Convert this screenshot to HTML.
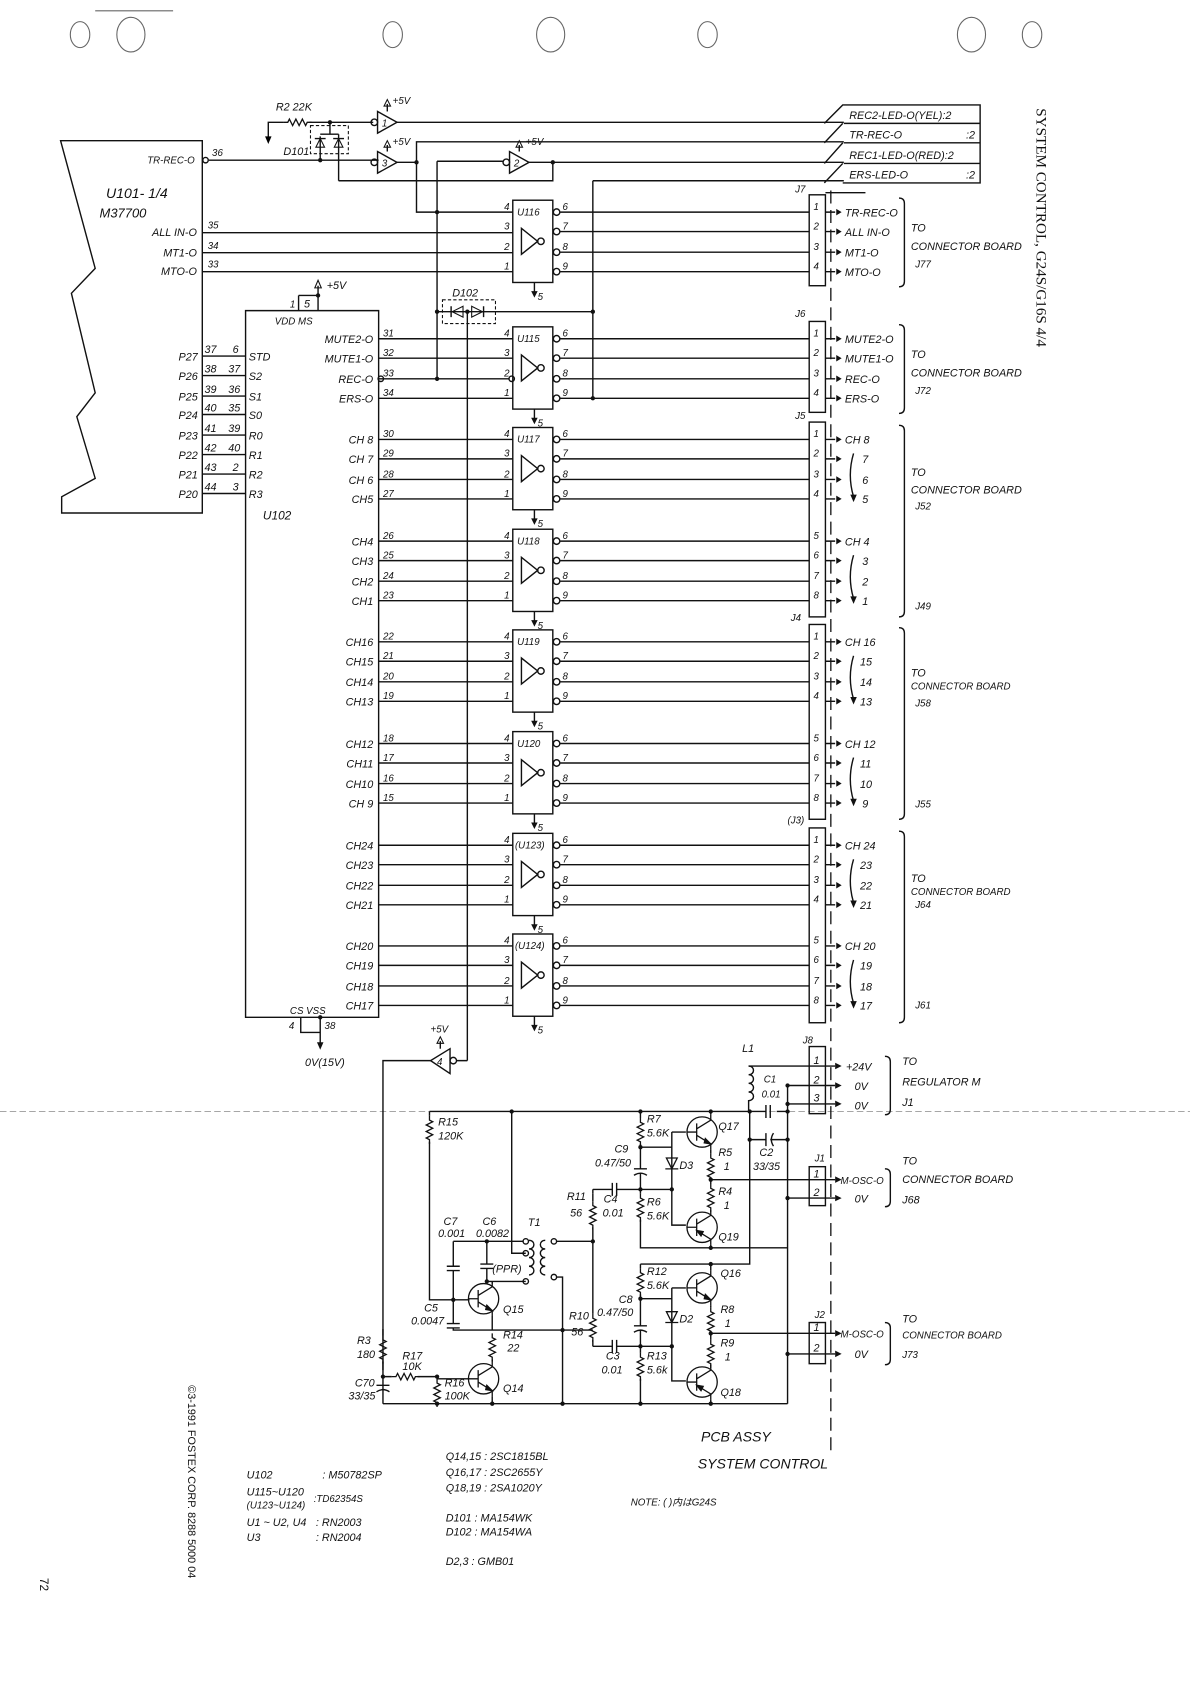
<!DOCTYPE html>
<html><head><meta charset="utf-8"><style>
html,body{margin:0;padding:0;background:#fff;}
svg{display:block;}
text{font-family:"Liberation Sans","Noto Sans CJK JP",sans-serif;font-style:italic;font-size:10px;fill:#111;}
.s{font-size:9px;}
.w{fill:none;stroke:#111;stroke-width:1.3;}
</style></head><body>
<svg width="1190" height="1684" viewBox="0 0 1100 1556" preserveAspectRatio="none" xmlns="http://www.w3.org/2000/svg">
<defs>
<g id="buf" class="w">
<rect x="474" y="0" width="37" height="76"/>
<path d="M482 26L482 50L497 38Z"/>
<circle cx="500" cy="38" r="3"/>
<circle cx="514.5" cy="11" r="3"/><circle cx="514.5" cy="29" r="3"/><circle cx="514.5" cy="48" r="3"/><circle cx="514.5" cy="66" r="3"/>
<path d="M518 11H748M518 29H748M518 48H748M518 66H748"/>
<path d="M763 11H772M763 29H772M763 48H772M763 66H772"/>
<path d="M494 76V88"/>
</g>
<g id="arr4" fill="#111"><path d="M773 8L778 11L773 14Z"/><path d="M773 26L778 29L773 32Z"/><path d="M773 45L778 48L773 51Z"/><path d="M773 63L778 66L773 69Z"/><path d="M491 84L494 90L497 84Z"/></g>
<path id="rv" d="M0 0v4l3 1.5l-6 3l6 3l-6 3l6 3l-6 3l3 1.5v4" fill="none" stroke="#111" stroke-width="1.2"/>
<path id="rh" d="M0 0h4l1.5 -3l3 6l3 -6l3 6l3 -6l3 6l1.5 -3h4" fill="none" stroke="#111" stroke-width="1.2"/>
<g id="npn" fill="none" stroke="#111" stroke-width="1.2"><circle r="14"/><path d="M-14 0H-5M-5 -8V8M-5 -3L8 -11V-16M-5 3L8 11V16"/><path d="M3 6L8 11L2 10Z" fill="#111"/></g>
<g id="pnp" fill="none" stroke="#111" stroke-width="1.2"><circle r="14"/><path d="M-14 0H-5M-5 -8V8M-5 -3L8 -11V-16M-5 3L8 11V16"/><path d="M-5 3L1 4L-1 8Z" fill="#111"/></g>
</defs>

<!-- punch holes -->
<g fill="none" stroke="#666" stroke-width="1">
<ellipse cx="74" cy="32" rx="9" ry="12"/><ellipse cx="121" cy="32" rx="13" ry="16"/>
<ellipse cx="363" cy="32" rx="9" ry="12"/><ellipse cx="509" cy="32" rx="13" ry="16"/>
<ellipse cx="654" cy="32" rx="9" ry="12"/><ellipse cx="898" cy="32" rx="13" ry="16"/><ellipse cx="954" cy="32" rx="9" ry="12"/>
<path d="M88 10H160"/>
</g>
<path d="M0 1027H1100" stroke="#999" stroke-width="0.8" stroke-dasharray="6 3"/>

<!-- U101 -->
<path class="w" d="M56 130H187V474H57V459L88 442L71 385L88 363L66 271L88 248Z"/>
<text x="98" y="183" style="font-size:13px">U101- 1/4</text>
<text x="92" y="201" style="font-size:12px">M37700</text>
<text x="180" y="151" text-anchor="end" class="s">TR-REC-O</text>
<circle class="w" cx="190" cy="148" r="2.5"/>
<text x="196" y="144" class="s">36</text>
<text x="182" y="218" text-anchor="end">ALL IN-O</text><text x="192" y="211" class="s">35</text>
<text x="182" y="237" text-anchor="end">MT1-O</text><text x="192" y="230" class="s">34</text>
<text x="182" y="254" text-anchor="end">MTO-O</text><text x="192" y="247" class="s">33</text>
<path class="w" d="M193 148H350M187 215H474M187 233.5H474M187 251H474"/>

<!-- top section -->
<text x="255" y="102">R2 22K</text>
<use href="#rh" x="262" y="113"/>
<path class="w" d="M248 130V113H262M286 113H345"/><path d="M245 126L248 133L251 126Z"/>
<circle cx="305" cy="113" r="2" fill="#111"/>
<rect x="287" y="116" width="35" height="26" fill="none" stroke="#111" stroke-dasharray="3 2"/>
<path class="w" d="M296 148V126M305 113V124H296M313 124H305M313 124V167"/>
<path d="M292 136L300 136L296 128Z M309 136L317 136L313 128Z" fill="none" stroke="#111"/>
<path class="w" d="M291 128H301M308 128H318"/>
<circle cx="296" cy="148" r="2" fill="#111"/>
<text x="262" y="143">D101</text>
<!-- buffers 1,3,2 -->
<path class="w" d="M349 103L349 123L367 113Z"/><circle class="w" cx="346" cy="113" r="3"/><text x="353" y="117" class="s">1</text>
<path class="w" d="M358 103V96"/><path d="M355 98L358 92L361 98Z" fill="none" stroke="#111"/><text x="363" y="96" class="s">+5V</text>
<path class="w" d="M349 140L349 160L367 150Z"/><circle class="w" cx="346" cy="150" r="3"/><text x="353" y="154" class="s">3</text>
<path class="w" d="M358 140V134"/><path d="M355 136L358 130L361 136Z" fill="none" stroke="#111"/><text x="363" y="134" class="s">+5V</text>
<path class="w" d="M471 140L471 160L489 150Z"/><circle class="w" cx="468" cy="150" r="3"/><text x="475" y="154" class="s">2</text>
<path class="w" d="M480 140V134"/><path d="M477 136L480 130L483 136Z" fill="none" stroke="#111"/><text x="486" y="134" class="s">+5V</text>
<path class="w" d="M367 113H780M367 150H385V131H780M385 150V196H474M404 149H465M404 149V351M489 150H780M511 150V167H313M548 167H780M548 167V369"/>
<circle cx="385" cy="150" r="2" fill="#111"/><circle cx="511" cy="150" r="2" fill="#111"/><circle cx="404" cy="196" r="2" fill="#111"/>
<!-- right label box -->
<path class="w" d="M762 114L779 97H906V169H779M780 114H906M762 132L779 114M780 132H906M762 151L779 132M780 151H906M762 169L779 151"/>
<text x="785" y="110">REC2-LED-O(YEL):2</text>
<text x="785" y="128">TR-REC-O</text><text x="893" y="128">:2</text>
<text x="785" y="147">REC1-LED-O(RED):2</text>
<text x="785" y="165">ERS-LED-O</text><text x="893" y="165">:2</text>
<text x="958" y="100" transform="rotate(90 958 100)" style="font-family:'Liberation Serif',serif;font-style:normal;font-size:14px">SYSTEM CONTROL, G24S/G16S 4/4</text>

<!-- D102 -->
<rect x="409" y="277" width="49" height="22" fill="none" stroke="#111" stroke-dasharray="3 2"/>
<path class="w" d="M404 288H548M432 288V980"/>
<path d="M428 283V293L418 288Z M436 283V293L446 288Z" fill="none" stroke="#111"/><path class="w" d="M417 283V293M447 283V293"/>
<circle cx="404" cy="288" r="2" fill="#111"/><circle cx="432" cy="288" r="2" fill="#111"/><circle cx="548" cy="288" r="2" fill="#111"/>
<text x="418" y="274">D102</text>

<!-- U102 -->
<path class="w" d="M227 287H350V940H227Z"/>
<path class="w" d="M276 273H294V287M276 273V287M294 273V264"/><circle cx="294" cy="273" r="2" fill="#111"/>
<path d="M291 266L294 259L297 266Z" fill="none" stroke="#111"/><text x="302" y="267">+5V</text>
<text x="268" y="284" class="s">1</text><text x="281" y="284">5</text>
<text x="254" y="300" class="s">VDD  MS</text>
<text x="243" y="480" style="font-size:11px">U102</text>
<g class="w"><path d="M187 329H227M187 347H227M187 366H227M187 383H227M187 402H227M187 420H227M187 438H227M187 456H227"/></g>
<g class="s">
<text x="165" y="333">P27</text><text x="189" y="326">37</text><text x="215" y="326">6</text><text x="230" y="333">STD</text>
<text x="165" y="351">P26</text><text x="189" y="344">38</text><text x="211" y="344">37</text><text x="230" y="351">S2</text>
<text x="165" y="370">P25</text><text x="189" y="363">39</text><text x="211" y="363">36</text><text x="230" y="370">S1</text>
<text x="165" y="387">P24</text><text x="189" y="380">40</text><text x="211" y="380">35</text><text x="230" y="387">S0</text>
<text x="165" y="406">P23</text><text x="189" y="399">41</text><text x="211" y="399">39</text><text x="230" y="406">R0</text>
<text x="165" y="424">P22</text><text x="189" y="417">42</text><text x="211" y="417">40</text><text x="230" y="424">R1</text>
<text x="165" y="442">P21</text><text x="189" y="435">43</text><text x="215" y="435">2</text><text x="230" y="442">R2</text>
<text x="165" y="460">P20</text><text x="189" y="453">44</text><text x="215" y="453">3</text><text x="230" y="460">R3</text>
</g>
<text x="268" y="937" class="s">CS  VSS</text>
<path class="w" d="M278 940V954H296V940M296 954V965"/><circle cx="296" cy="940" r="2" fill="#111"/>
<path d="M293 963L296 970L299 963Z" fill="#111"/>
<text x="267" y="951" class="s">4</text><text x="300" y="951" class="s">38</text>
<text x="282" y="985">0V(15V)</text>

<!-- connectors -->
<g class="w">
<rect x="748" y="180" width="15" height="84"/>
<rect x="748" y="297" width="15" height="84"/>
<rect x="748" y="390" width="15" height="180"/>
<rect x="748" y="577" width="15" height="180"/>
<rect x="748" y="765" width="15" height="180"/>
<rect x="748" y="967" width="15" height="62"/>
<rect x="748" y="1078" width="15" height="36"/>
<rect x="748" y="1222" width="15" height="38"/>
</g>
<path d="M768 176V1340" stroke="#111" stroke-width="1.2" stroke-dasharray="12 6"/>
<text x="735" y="178" class="s">J7</text><text x="735" y="293" class="s">J6</text><text x="735" y="387" class="s">J5</text>
<text x="731" y="574" class="s">J4</text><text x="728" y="761" class="s">(J3)</text><text x="742" y="964" class="s">J8</text>
<text x="753" y="1073" class="s">J1</text><text x="753" y="1218" class="s">J2</text>

<!-- U116 -->
<g transform="translate(0,185)"><use href="#buf"/><use href="#arr4"/>
<text x="478" y="14" class="s">U116</text>
<text x="466" y="9" class="s">4</text><text x="466" y="27" class="s">3</text><text x="466" y="46" class="s">2</text><text x="466" y="64" class="s">1</text>
<text x="520" y="9" class="s">6</text><text x="520" y="27" class="s">7</text><text x="520" y="46" class="s">8</text><text x="520" y="64" class="s">9</text>
<text x="497" y="92" class="s">5</text>
<text x="752" y="9" class="s">1</text><text x="752" y="27" class="s">2</text><text x="752" y="46" class="s">3</text><text x="752" y="64" class="s">4</text>
<text x="781" y="15">TR-REC-O</text><text x="781" y="33">ALL IN-O</text><text x="781" y="52">MT1-O</text><text x="781" y="70">MTO-O</text>
<path class="w" d="M831 -2Q836 -2 836 3V75Q836 80 831 80"/>
<text x="842" y="29">TO</text><text x="842" y="46">CONNECTOR BOARD</text><text x="846" y="62" class="s">J77</text>
</g>
<path class="w" d="M763 178H800"/>

<!-- U115 -->
<g transform="translate(0,302)"><use href="#buf"/><use href="#arr4"/>
<path class="w" d="M350 11H474M350 29H474M350 48H471M350 66H474"/><circle class="w" cx="352" cy="48" r="2.5"/><circle class="w" cx="473" cy="48" r="2.5"/>
<circle cx="404" cy="48" r="2" fill="#111"/><circle cx="548" cy="66" r="2" fill="#111"/>
<text x="478" y="14" class="s">U115</text>
<text x="466" y="9" class="s">4</text><text x="466" y="27" class="s">3</text><text x="466" y="46" class="s">2</text><text x="466" y="64" class="s">1</text>
<text x="520" y="9" class="s">6</text><text x="520" y="27" class="s">7</text><text x="520" y="46" class="s">8</text><text x="520" y="64" class="s">9</text>
<text x="497" y="92" class="s">5</text>
<text x="345" y="15" text-anchor="end">MUTE2-O</text><text x="345" y="33" text-anchor="end">MUTE1-O</text><text x="345" y="52" text-anchor="end">REC-O</text><text x="345" y="70" text-anchor="end">ERS-O</text>
<text x="354" y="9" class="s">31</text><text x="354" y="27" class="s">32</text><text x="354" y="46" class="s">33</text><text x="354" y="64" class="s">34</text>
<text x="752" y="9" class="s">1</text><text x="752" y="27" class="s">2</text><text x="752" y="46" class="s">3</text><text x="752" y="64" class="s">4</text>
<text x="781" y="15">MUTE2-O</text><text x="781" y="33">MUTE1-O</text><text x="781" y="52">REC-O</text><text x="781" y="70">ERS-O</text>
<path class="w" d="M831 -2Q836 -2 836 3V75Q836 80 831 80"/>
<text x="842" y="29">TO</text><text x="842" y="46">CONNECTOR BOARD</text><text x="846" y="62" class="s">J72</text>
</g>

<!-- U117 -->
<g transform="translate(0,395)"><use href="#buf"/><use href="#arr4"/>
<path class="w" d="M350 11H474M350 29H474M350 48H474M350 66H474"/>
<text x="478" y="14" class="s">U117</text>
<text x="466" y="9" class="s">4</text><text x="466" y="27" class="s">3</text><text x="466" y="46" class="s">2</text><text x="466" y="64" class="s">1</text>
<text x="520" y="9" class="s">6</text><text x="520" y="27" class="s">7</text><text x="520" y="46" class="s">8</text><text x="520" y="64" class="s">9</text>
<text x="497" y="92" class="s">5</text>
<text x="345" y="15" text-anchor="end">CH 8</text><text x="345" y="33" text-anchor="end">CH 7</text><text x="345" y="52" text-anchor="end">CH 6</text><text x="345" y="70" text-anchor="end">CH5</text>
<text x="354" y="9" class="s">30</text><text x="354" y="27" class="s">29</text><text x="354" y="46" class="s">28</text><text x="354" y="64" class="s">27</text>
<text x="752" y="9" class="s">1</text><text x="752" y="27" class="s">2</text><text x="752" y="46" class="s">3</text><text x="752" y="64" class="s">4</text>
<text x="781" y="15">CH 8</text><text x="797" y="33">7</text><text x="797" y="52">6</text><text x="797" y="70">5</text>
<path class="w" d="M789 24Q783 44 789 64"/><path d="M786 62L789 69L792 62Z" fill="#111"/>
<path class="w" d="M831 -2Q836 -2 836 3V170Q836 175 831 175"/>
<text x="842" y="45">TO</text><text x="842" y="61">CONNECTOR BOARD</text><text x="846" y="76" class="s">J52</text>
<text x="846" y="168" class="s">J49</text>
</g>

<!-- U118 -->
<g transform="translate(0,489)"><use href="#buf"/><use href="#arr4"/>
<path class="w" d="M350 11H474M350 29H474M350 48H474M350 66H474"/>
<text x="478" y="14" class="s">U118</text>
<text x="466" y="9" class="s">4</text><text x="466" y="27" class="s">3</text><text x="466" y="46" class="s">2</text><text x="466" y="64" class="s">1</text>
<text x="520" y="9" class="s">6</text><text x="520" y="27" class="s">7</text><text x="520" y="46" class="s">8</text><text x="520" y="64" class="s">9</text>
<text x="497" y="92" class="s">5</text>
<text x="345" y="15" text-anchor="end">CH4</text><text x="345" y="33" text-anchor="end">CH3</text><text x="345" y="52" text-anchor="end">CH2</text><text x="345" y="70" text-anchor="end">CH1</text>
<text x="354" y="9" class="s">26</text><text x="354" y="27" class="s">25</text><text x="354" y="46" class="s">24</text><text x="354" y="64" class="s">23</text>
<text x="752" y="9" class="s">5</text><text x="752" y="27" class="s">6</text><text x="752" y="46" class="s">7</text><text x="752" y="64" class="s">8</text>
<text x="781" y="15">CH 4</text><text x="797" y="33">3</text><text x="797" y="52">2</text><text x="797" y="70">1</text>
<path class="w" d="M789 24Q783 44 789 64"/><path d="M786 62L789 69L792 62Z" fill="#111"/>
</g>

<!-- U119 -->
<g transform="translate(0,582)"><use href="#buf"/><use href="#arr4"/>
<path class="w" d="M350 11H474M350 29H474M350 48H474M350 66H474"/>
<text x="478" y="14" class="s">U119</text>
<text x="466" y="9" class="s">4</text><text x="466" y="27" class="s">3</text><text x="466" y="46" class="s">2</text><text x="466" y="64" class="s">1</text>
<text x="520" y="9" class="s">6</text><text x="520" y="27" class="s">7</text><text x="520" y="46" class="s">8</text><text x="520" y="64" class="s">9</text>
<text x="497" y="92" class="s">5</text>
<text x="345" y="15" text-anchor="end">CH16</text><text x="345" y="33" text-anchor="end">CH15</text><text x="345" y="52" text-anchor="end">CH14</text><text x="345" y="70" text-anchor="end">CH13</text>
<text x="354" y="9" class="s">22</text><text x="354" y="27" class="s">21</text><text x="354" y="46" class="s">20</text><text x="354" y="64" class="s">19</text>
<text x="752" y="9" class="s">1</text><text x="752" y="27" class="s">2</text><text x="752" y="46" class="s">3</text><text x="752" y="64" class="s">4</text>
<text x="781" y="15">CH 16</text><text x="795" y="33">15</text><text x="795" y="52">14</text><text x="795" y="70">13</text>
<path class="w" d="M789 24Q783 44 789 64"/><path d="M786 62L789 69L792 62Z" fill="#111"/>
<path class="w" d="M831 -2Q836 -2 836 3V170Q836 175 831 175"/>
<text x="842" y="43">TO</text><text x="842" y="55" class="s">CONNECTOR BOARD</text><text x="846" y="71" class="s">J58</text>
<text x="846" y="164" class="s">J55</text>
</g>

<!-- U120 -->
<g transform="translate(0,676)"><use href="#buf"/><use href="#arr4"/>
<path class="w" d="M350 11H474M350 29H474M350 48H474M350 66H474"/>
<text x="478" y="14" class="s">U120</text>
<text x="466" y="9" class="s">4</text><text x="466" y="27" class="s">3</text><text x="466" y="46" class="s">2</text><text x="466" y="64" class="s">1</text>
<text x="520" y="9" class="s">6</text><text x="520" y="27" class="s">7</text><text x="520" y="46" class="s">8</text><text x="520" y="64" class="s">9</text>
<text x="497" y="92" class="s">5</text>
<text x="345" y="15" text-anchor="end">CH12</text><text x="345" y="33" text-anchor="end">CH11</text><text x="345" y="52" text-anchor="end">CH10</text><text x="345" y="70" text-anchor="end">CH 9</text>
<text x="354" y="9" class="s">18</text><text x="354" y="27" class="s">17</text><text x="354" y="46" class="s">16</text><text x="354" y="64" class="s">15</text>
<text x="752" y="9" class="s">5</text><text x="752" y="27" class="s">6</text><text x="752" y="46" class="s">7</text><text x="752" y="64" class="s">8</text>
<text x="781" y="15">CH 12</text><text x="795" y="33">11</text><text x="795" y="52">10</text><text x="797" y="70">9</text>
<path class="w" d="M789 24Q783 44 789 64"/><path d="M786 62L789 69L792 62Z" fill="#111"/>
</g>

<!-- U123 -->
<g transform="translate(0,770)"><use href="#buf"/><use href="#arr4"/>
<path class="w" d="M350 11H474M350 29H474M350 48H474M350 66H474"/>
<text x="476" y="14" class="s">(U123)</text>
<text x="466" y="9" class="s">4</text><text x="466" y="27" class="s">3</text><text x="466" y="46" class="s">2</text><text x="466" y="64" class="s">1</text>
<text x="520" y="9" class="s">6</text><text x="520" y="27" class="s">7</text><text x="520" y="46" class="s">8</text><text x="520" y="64" class="s">9</text>
<text x="497" y="92" class="s">5</text>
<text x="345" y="15" text-anchor="end">CH24</text><text x="345" y="33" text-anchor="end">CH23</text><text x="345" y="52" text-anchor="end">CH22</text><text x="345" y="70" text-anchor="end">CH21</text>
<text x="752" y="9" class="s">1</text><text x="752" y="27" class="s">2</text><text x="752" y="46" class="s">3</text><text x="752" y="64" class="s">4</text>
<text x="781" y="15">CH 24</text><text x="795" y="33">23</text><text x="795" y="52">22</text><text x="795" y="70">21</text>
<path class="w" d="M789 24Q783 44 789 64"/><path d="M786 62L789 69L792 62Z" fill="#111"/>
<path class="w" d="M831 -2Q836 -2 836 3V170Q836 175 831 175"/>
<text x="842" y="45">TO</text><text x="842" y="57" class="s">CONNECTOR BOARD</text><text x="846" y="69" class="s">J64</text>
<text x="846" y="162" class="s">J61</text>
</g>

<!-- U124 -->
<g transform="translate(0,863)"><use href="#buf"/><use href="#arr4"/>
<path class="w" d="M350 11H474M350 29H474M350 48H474M350 66H474"/>
<text x="476" y="14" class="s">(U124)</text>
<text x="466" y="9" class="s">4</text><text x="466" y="27" class="s">3</text><text x="466" y="46" class="s">2</text><text x="466" y="64" class="s">1</text>
<text x="520" y="9" class="s">6</text><text x="520" y="27" class="s">7</text><text x="520" y="46" class="s">8</text><text x="520" y="64" class="s">9</text>
<text x="497" y="92" class="s">5</text>
<text x="345" y="15" text-anchor="end">CH20</text><text x="345" y="33" text-anchor="end">CH19</text><text x="345" y="52" text-anchor="end">CH18</text><text x="345" y="70" text-anchor="end">CH17</text>
<text x="752" y="9" class="s">5</text><text x="752" y="27" class="s">6</text><text x="752" y="46" class="s">7</text><text x="752" y="64" class="s">8</text>
<text x="781" y="15">CH 20</text><text x="795" y="33">19</text><text x="795" y="52">18</text><text x="795" y="70">17</text>
<path class="w" d="M789 24Q783 44 789 64"/><path d="M786 62L789 69L792 62Z" fill="#111"/>
</g>

<!-- buffer 4 -->
<path class="w" d="M416 969L416 992L398 980Z"/><circle class="w" cx="419" cy="980" r="3"/><text x="404" y="984" class="s">4</text>
<path class="w" d="M422 980H432M398 980H354V1297"/>
<path class="w" d="M407 969V962"/><path d="M404 964L407 958L410 964Z" fill="none" stroke="#111"/><text x="398" y="954" class="s">+5V</text>

<!-- lower circuit -->
<g class="w">
<path d="M397 1027H708M718 1027H728M728 1003V1297M354 1297H728"/>
<path d="M708 1021V1033M712 1021V1033"/>
<path d="M692 985H772M728 1003H772M728 1020H772M657 1090H772M728 1107H772M657 1232H772M728 1251H772"/>
<path d="M692 985c6 0 6 8 0 8c6 0 6 8 0 8c6 0 6 8 0 8c6 0 6 8 0 8V1027"/>
<path d="M693 1027V1168H592M693 1053H708M712 1053H728"/>
<path d="M708 1047V1059"/><path d="M715 1047Q711 1053 715 1059"/>
<path d="M397 1027V1031M397 1055V1201H434"/>
<path d="M473 1027V1158H486"/>
<path d="M419 1147H484M419 1147V1170M419 1174V1223M419 1227V1229H548"/>
<path d="M413 1170H425M413 1174H425M413 1223H425M413 1227H425"/>
<path d="M450 1147V1168M450 1172V1184H486M444 1168H456M444 1172H456"/>
<path d="M514 1147H548M514 1180H520V1297"/>
<path d="M489 1146c6 0 6 8 0 8c6 0 6 8 0 8c6 0 6 8 0 8c6 0 6 8 0 8"/>
<path d="M504 1146c-6 0 -6 8 0 8c-6 0 -6 8 0 8c-6 0 -6 8 0 8c-6 0 -6 8 0 8"/>
<circle cx="486" cy="1147" r="2.5"/><circle cx="486" cy="1158" r="2.5"/><circle cx="486" cy="1184" r="2.5"/><circle cx="512" cy="1147" r="2.5"/><circle cx="512" cy="1180" r="2.5"/>
<path d="M548 1103V1110M548 1134V1214M548 1238V1244"/>
<path d="M548 1099V1103M548 1099H566M570 1099H592M566 1093V1105M570 1093V1105"/>
<path d="M548 1244H566M570 1244H592M566 1238V1250M570 1238V1250"/>
<path d="M592 1027V1033M592 1057V1080M592 1084V1103M592 1127V1153H728"/>
<path d="M586 1080H598M586 1086Q592 1082 598 1086"/>
<path d="M592 1060H621M621 1046V1132H634M592 1099H621M621 1046H634"/>
<path d="M592 1168V1172M592 1196V1225M592 1229V1250M592 1274V1297"/>
<path d="M586 1225H598M586 1231Q592 1227 598 1231"/>
<path d="M592 1200H621M621 1190V1276H634M592 1244H621M621 1190H634"/>
<path d="M657 1027V1030M657 1062V1066M657 1090V1094M657 1118V1118M657 1150V1153M657 1168V1174M657 1206V1208M657 1232V1238M657 1262V1261M657 1293V1297"/>
<path d="M455 1184V1186M455 1216V1229M455 1256V1258M455 1290V1297M434 1274H404"/>
<path d="M354 1228V1234M354 1258V1266M354 1272H362M386 1272H404M404 1272V1274M404 1298V1297"/>
<path d="M348 1280H360M348 1286Q354 1282 360 1286"/>
</g>
<path d="M616 1070L626 1070L621 1080Z M615 1080H627" fill="none" stroke="#111" stroke-width="1.2"/>
<path d="M616 1212L626 1212L621 1222Z M615 1222H627" fill="none" stroke="#111" stroke-width="1.2"/>
<use href="#rv" x="397" y="1031"/>
<use href="#rv" x="592" y="1033"/><use href="#rv" x="592" y="1103"/><use href="#rv" x="548" y="1110"/><use href="#rv" x="548" y="1214"/>
<use href="#rv" x="592" y="1172"/><use href="#rv" x="592" y="1250"/>
<use href="#rv" x="657" y="1066"/><use href="#rv" x="657" y="1094"/><use href="#rv" x="657" y="1208"/><use href="#rv" x="657" y="1238"/>
<use href="#rv" x="455" y="1232"/><use href="#rv" x="354" y="1234"/><use href="#rv" x="404" y="1274"/>
<use href="#rh" x="362" y="1272"/>
<use href="#npn" x="649" y="1046"/><use href="#pnp" x="649" y="1134"/><use href="#npn" x="649" y="1190"/><use href="#pnp" x="649" y="1277"/>
<use href="#npn" x="447" y="1200"/><use href="#npn" x="447" y="1274"/>
<g fill="#111">
<circle cx="473" cy="1027" r="2"/><circle cx="592" cy="1027" r="2"/><circle cx="657" cy="1027" r="2"/><circle cx="693" cy="1027" r="2"/><circle cx="728" cy="1027" r="2"/>
<circle cx="693" cy="1053" r="2"/><circle cx="728" cy="1053" r="2"/><circle cx="592" cy="1060" r="2"/><circle cx="592" cy="1099" r="2"/><circle cx="621" cy="1099" r="2"/>
<circle cx="657" cy="1090" r="2"/><circle cx="728" cy="1107" r="2"/><circle cx="657" cy="1153" r="2"/><circle cx="548" cy="1147" r="2"/><circle cx="657" cy="1168" r="2"/>
<circle cx="419" cy="1201" r="2"/><circle cx="450" cy="1147" r="2"/><circle cx="450" cy="1184" r="2"/><circle cx="520" cy="1229" r="2"/><circle cx="592" cy="1200" r="2"/>
<circle cx="592" cy="1244" r="2"/><circle cx="621" cy="1244" r="2"/><circle cx="657" cy="1232" r="2"/><circle cx="728" cy="1251" r="2"/><circle cx="354" cy="1272" r="2"/>
<circle cx="404" cy="1272" r="2"/><circle cx="404" cy="1297" r="2"/><circle cx="455" cy="1297" r="2"/><circle cx="520" cy="1297" r="2"/><circle cx="592" cy="1297" r="2"/><circle cx="657" cy="1297" r="2"/>
<circle cx="728" cy="1020" r="2"/><circle cx="728" cy="1003" r="2"/>
<path d="M772 982L778 985L772 988Z M772 1000L778 1003L772 1006Z M772 1017L778 1020L772 1023Z M772 1087L778 1090L772 1093Z M772 1104L778 1107L772 1110Z M772 1229L778 1232L772 1235Z M772 1248L778 1251L772 1254Z"/>
</g>
<g class="s">
<text x="752" y="983">1</text><text x="752" y="1001">2</text><text x="752" y="1018">3</text>
<text x="752" y="1088">1</text><text x="752" y="1105">2</text><text x="752" y="1230">1</text><text x="752" y="1249">2</text>
</g>
<text x="686" y="972">L1</text><text x="706" y="1000" class="s">C1</text><text x="704" y="1014" class="s">0.01</text>
<text x="782" y="989">+24V</text><text x="790" y="1007">0V</text><text x="790" y="1025">0V</text>
<path class="w" d="M818 976Q823 976 823 981V1025Q823 1030 818 1030"/>
<text x="834" y="984">TO</text><text x="834" y="1003">REGULATOR M</text><text x="834" y="1022">J1</text>
<text x="777" y="1094" class="s">M-OSC-O</text><text x="790" y="1111">0V</text>
<path class="w" d="M818 1080Q823 1080 823 1085V1110Q823 1115 818 1115"/>
<text x="834" y="1076">TO</text><text x="834" y="1093">CONNECTOR BOARD</text><text x="834" y="1112">J68</text>
<text x="777" y="1236" class="s">M-OSC-O</text><text x="790" y="1255">0V</text>
<path class="w" d="M818 1222Q823 1222 823 1227V1256Q823 1261 818 1261"/>
<text x="834" y="1222">TO</text><text x="834" y="1237" class="s">CONNECTOR BOARD</text><text x="834" y="1255" class="s">J73</text>
<g class="s">
<text x="405" y="1040">R15</text><text x="405" y="1053">120K</text>
<text x="598" y="1037">R7</text><text x="598" y="1050">5.6K</text><text x="664" y="1044">Q17</text>
<text x="568" y="1065">C9</text><text x="550" y="1078">0.47/50</text><text x="628" y="1080">D3</text>
<text x="664" y="1068">R5</text><text x="669" y="1081">1</text><text x="702" y="1068">C2</text><text x="696" y="1081">33/35</text>
<text x="524" y="1109">R11</text><text x="527" y="1124">56</text><text x="558" y="1111">C4</text><text x="557" y="1124">0.01</text>
<text x="598" y="1114">R6</text><text x="598" y="1127">5.6K</text><text x="664" y="1104">R4</text><text x="669" y="1117">1</text><text x="664" y="1146">Q19</text>
<text x="410" y="1132">C7</text><text x="405" y="1143">0.001</text><text x="446" y="1132">C6</text><text x="440" y="1143">0.0082</text><text x="488" y="1133">T1</text>
<text x="455" y="1176">(PPR)</text>
<text x="598" y="1178">R12</text><text x="598" y="1191">5.6K</text><text x="666" y="1180">Q16</text>
<text x="572" y="1204">C8</text><text x="552" y="1216">0.47/50</text><text x="628" y="1222">D2</text>
<text x="666" y="1213">R8</text><text x="670" y="1226">1</text>
<text x="392" y="1212">C5</text><text x="380" y="1224">0.0047</text><text x="465" y="1213">Q15</text>
<text x="526" y="1219">R10</text><text x="528" y="1234">56</text>
<text x="465" y="1237">R14</text><text x="469" y="1249">22</text>
<text x="666" y="1244">R9</text><text x="670" y="1257">1</text>
<text x="560" y="1256">C3</text><text x="556" y="1269">0.01</text><text x="598" y="1256">R13</text><text x="598" y="1269">5.6k</text>
<text x="372" y="1256">R17</text><text x="372" y="1266">10K</text><text x="411" y="1281">R16</text><text x="411" y="1293">100K</text><text x="465" y="1286">Q14</text>
<text x="666" y="1290">Q18</text>
<text x="330" y="1242">R3</text><text x="330" y="1255">180</text><text x="328" y="1281">C70</text><text x="322" y="1293">33/35</text>
</g>

<!-- notes -->
<text x="648" y="1332" style="font-size:13px">PCB ASSY</text>
<text x="645" y="1357" style="font-size:13px">SYSTEM CONTROL</text>
<text x="583" y="1391" class="s">NOTE: (  )内はG24S</text>
<text x="228" y="1366">U102</text><text x="298" y="1366">: M50782SP</text>
<text x="228" y="1382">U115~U120</text><text x="228" y="1394" class="s">(U123~U124)</text><text x="290" y="1388" class="s">:TD62354S</text>
<text x="228" y="1410">U1 ~ U2, U4</text><text x="292" y="1410">: RN2003</text>
<text x="228" y="1424">U3</text><text x="292" y="1424">: RN2004</text>
<text x="412" y="1349">Q14,15  : 2SC1815BL</text>
<text x="412" y="1364">Q16,17  : 2SC2655Y</text>
<text x="412" y="1378">Q18,19  : 2SA1020Y</text>
<text x="412" y="1406">D101     : MA154WK</text>
<text x="412" y="1419">D102     : MA154WA</text>
<text x="412" y="1446">D2,3     : GMB01</text>
<text x="174" y="1280" transform="rotate(90 174 1280)" style="font-style:normal;font-size:10px">©3-1991  FOSTEX CORP.  8288 5000 04</text>
<text x="37" y="1458" transform="rotate(90 37 1458)" style="font-style:normal;font-size:11px">72</text>
</svg>
</body></html>
